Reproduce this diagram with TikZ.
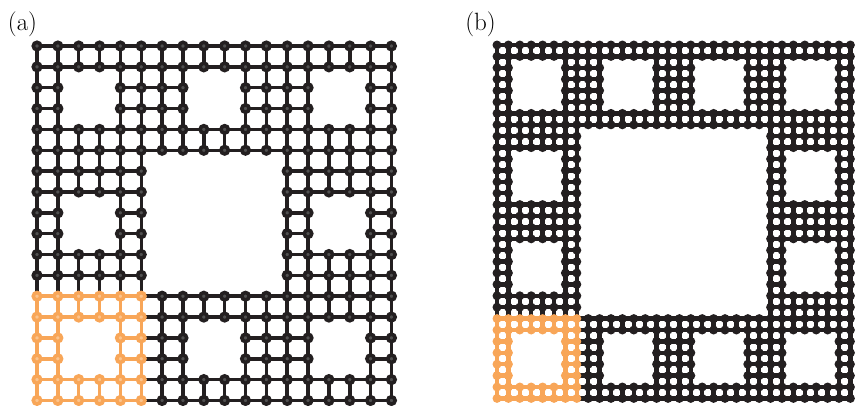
\documentclass[tikz,border=0pt]{standalone}
\usetikzlibrary{backgrounds}
\definecolor{cLattice}{HTML}{231F20}
\definecolor{cCore}{HTML}{505050}
\definecolor{cOrange}{HTML}{F8A658}
\definecolor{cOrangeCore}{HTML}{FBC48E}

% carpet membership: \siteok = 1 if site (#1,#2) is kept
\newcommand\testA[2]{%
  \pgfmathtruncatemacro\cp{int(#1/2)}%
  \pgfmathtruncatemacro\cq{int(#2/2)}%
  \pgfmathtruncatemacro\siteok{!((mod(\cp,3)==1 && mod(\cq,3)==1) || (int(\cp/3)==1 && int(\cq/3)==1))}}
\newcommand\testB[2]{%
  \pgfmathtruncatemacro\cp{int(#1/2)}%
  \pgfmathtruncatemacro\cq{int(#2/2)}%
  \pgfmathtruncatemacro\siteok{!(((mod(\cp,4)==1 || mod(\cp,4)==2) && (mod(\cq,4)==1 || mod(\cq,4)==2)) || ((int(\cp/4)==1 || int(\cp/4)==2) && (int(\cq/4)==1 || int(\cq/4)==2)))}}

\begin{document}
\begin{tikzpicture}[
  x=1pt, y=-1pt,
  panel/.style={inner sep=0pt, font=\fontsize{25}{25}\selectfont},
  siteA/.style={circle, draw=cLattice, fill=cCore, line width=3.6pt,
                inner sep=0pt, minimum size=7.4pt},
  siteAo/.style={siteA, draw=cOrange, fill=cOrangeCore},
  siteB/.style={circle, draw=none, fill=cLattice, inner sep=0pt, minimum size=9pt},
  siteBo/.style={siteB, fill=cOrange},
  bondA/.style={draw=cLattice, line width=3.5pt},
  bondAo/.style={bondA, draw=cOrange},
  bondB/.style={draw=cLattice, line width=4.4pt},
  bondBo/.style={bondB, draw=cOrange},
]
  \useasboundingbox (0,0) rectangle (859,405);

  \node[panel] (lab-a) at (22.5,24) {(a)};
  \node[panel] (lab-b) at (480.5,24) {(b)};

  % (a) sites
  \foreach \i in {0,...,17} \foreach \j in {0,...,17} {
    \testA{\i}{\j}
    \ifnum\siteok=1
      \def\sty{siteA}
      \ifnum\i<6 \ifnum\j>11 \def\sty{siteAo}\fi\fi
      \node[\sty] (a-\i-\j) at ({37+20.85*\i},{46+20.85*\j}) {};
    \fi
  }

  % (b) sites
  \foreach \i in {0,...,31} \foreach \j in {0,...,31} {
    \testB{\i}{\j}
    \ifnum\siteok=1
      \def\sty{siteB}
      \ifnum\i<8 \ifnum\j>23 \def\sty{siteBo}\fi\fi
      \node[\sty] (b-\i-\j) at ({497+11.4*\i},{45+11.4*\j}) {};
    \fi
  }

  \begin{scope}[on background layer]
    % (a) bonds
    \foreach \i in {0,...,17} \foreach \j in {0,...,17} {
      \testA{\i}{\j}\let\here\siteok
      \pgfmathtruncatemacro\ni{\i+1}
      \pgfmathtruncatemacro\nj{\j+1}
      \ifnum\i<17
        \testA{\ni}{\j}
        \ifnum\numexpr\here*\siteok\relax=1
          \def\sty{bondA}
          \ifnum\i<5 \ifnum\j>11 \def\sty{bondAo}\fi\fi
          \draw[\sty] (a-\i-\j.center) -- (a-\ni-\j.center);
        \fi
      \fi
      \ifnum\j<17
        \testA{\i}{\nj}
        \ifnum\numexpr\here*\siteok\relax=1
          \def\sty{bondA}
          \ifnum\i<6 \ifnum\j>11 \def\sty{bondAo}\fi\fi
          \draw[\sty] (a-\i-\j.center) -- (a-\i-\nj.center);
        \fi
      \fi
    }
    % (b) bonds
    \foreach \i in {0,...,31} \foreach \j in {0,...,31} {
      \testB{\i}{\j}\let\here\siteok
      \pgfmathtruncatemacro\ni{\i+1}
      \pgfmathtruncatemacro\nj{\j+1}
      \ifnum\i<31
        \testB{\ni}{\j}
        \ifnum\numexpr\here*\siteok\relax=1
          \def\sty{bondB}
          \ifnum\i<7 \ifnum\j>23 \def\sty{bondBo}\fi\fi
          \draw[\sty] (b-\i-\j.center) -- (b-\ni-\j.center);
        \fi
      \fi
      \ifnum\j<31
        \testB{\i}{\nj}
        \ifnum\numexpr\here*\siteok\relax=1
          \def\sty{bondB}
          \ifnum\i<8 \ifnum\j>23 \def\sty{bondBo}\fi\fi
          \draw[\sty] (b-\i-\j.center) -- (b-\i-\nj.center);
        \fi
      \fi
    }
  \end{scope}
\end{tikzpicture}
\end{document}
